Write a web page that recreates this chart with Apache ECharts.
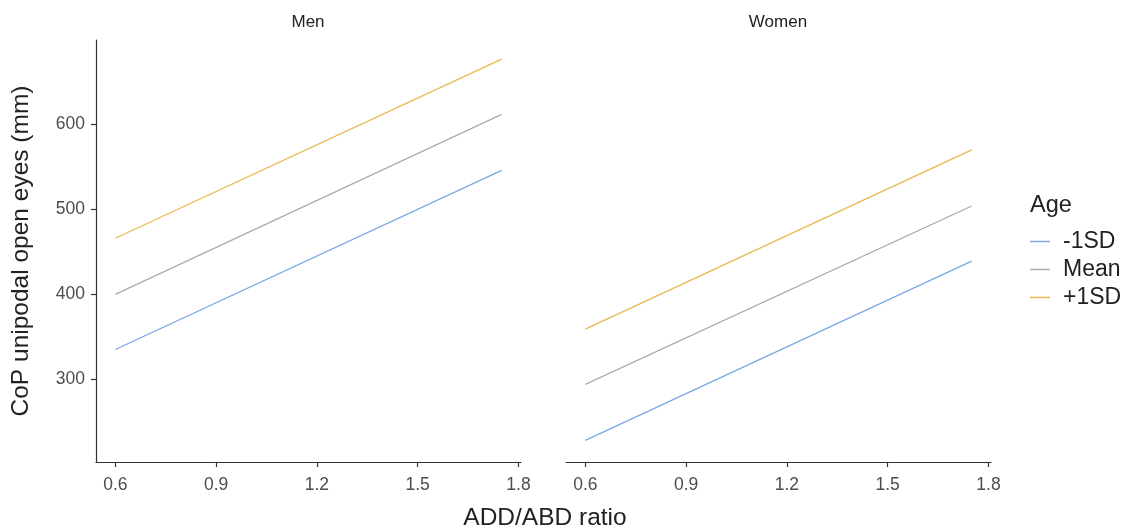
<!DOCTYPE html>
<html>
<head>
<meta charset="utf-8">
<script src="https://cdn.jsdelivr.net/npm/echarts@6/dist/echarts.min.js"></script>
<style>
  html, body { margin: 0; padding: 0; background: #fff; }
  #chart { width: 1134px; height: 531px; }
</style>
</head>
<body>
<div id="chart"></div>
<script>
const panels = ["Men", "Women"];
const ageGroups = ["-1SD", "Mean", "+1SD"];
const xEnds = [0.6, 1.75];
const xTicks = [0.6, 0.9, 1.2, 1.5, 1.8];
const yTicks = [300, 400, 500, 600];

// [start, end] values of each fitted line
const menLines = {
  "-1SD": [335, 546],
  "Mean": [400, 612],
  "+1SD": [466, 677]
};
const womenLines = {
  "-1SD": [228, 439],
  "Mean": [294, 504],
  "+1SD": [359, 570]
};

const colors = { "-1SD": "#7ba7e6", "Mean": "#ababab", "+1SD": "#e8b94f" };
const font = "Liberation Sans, Arial, sans-serif";

const chart = echarts.init(document.getElementById("chart"));

const axisLine = { show: true, lineStyle: { color: "#333", width: 1.2 } };

const xAxisFor = (i) => ({
  type: "value",
  gridIndex: i,
  min: 0.5425,
  max: 1.8075,
  axisLine: axisLine,
  axisTick: { show: true, length: 5, customValues: xTicks, lineStyle: { color: "#333", width: 1.2 } },
  axisLabel: {
    customValues: xTicks,
    color: "#4d4d4d",
    fontSize: 17.5,
    fontFamily: font,
    margin: 14,
    formatter: (v) => v.toFixed(1)
  },
  splitLine: { show: false }
});

const yAxisFor = (i) => ({
  type: "value",
  gridIndex: i,
  min: 202.5,
  max: 699.5,
  axisLine: i === 0 ? axisLine : { show: false },
  axisTick: i === 0
    ? { show: true, length: 5, customValues: yTicks, lineStyle: { color: "#333", width: 1.2 } }
    : { show: false },
  axisLabel: i === 0
    ? { customValues: yTicks, color: "#4d4d4d", fontSize: 17.5, fontFamily: font, margin: 11 }
    : { show: false },
  splitLine: { show: false },
  name: i === 0 ? "CoP unipodal open eyes (mm)" : "",
  nameLocation: "middle",
  nameGap: 62,
  nameTextStyle: { fontSize: 24.5, color: "#222", fontFamily: font }
});

const series = [];
[menLines, womenLines].forEach((lines, i) => {
  ageGroups.forEach((g) => {
    series.push({
      name: g,
      type: "line",
      xAxisIndex: i,
      yAxisIndex: i,
      symbol: "none",
      data: xEnds.map((x, k) => [x, lines[g][k]]),
      lineStyle: { color: colors[g], width: 1.3 },
      itemStyle: { color: colors[g] },
      silent: true
    });
  });
});

const titleStyle = (size) => ({ fontSize: size, fontWeight: "normal", color: "#222", fontFamily: font });

const option = {
  animation: false,
  grid: [
    { left: 96, top: 40, width: 425, height: 422 },
    { left: 566, top: 40, width: 425, height: 422 }
  ],
  title: [
    { text: panels[0], left: 308, top: 14, textAlign: "center", padding: 0, textStyle: titleStyle(17) },
    { text: panels[1], left: 778, top: 14, textAlign: "center", padding: 0, textStyle: titleStyle(17) },
    { text: "ADD/ABD ratio", left: 545, top: 506, textAlign: "center", padding: 0, textStyle: titleStyle(24.5) },
    { text: "Age", left: 1030, top: 194, padding: 0, textStyle: titleStyle(23.5) }
  ],
  legend: {
    orient: "vertical",
    left: 1030,
    top: 230,
    padding: 0,
    data: ageGroups,
    icon: "rect",
    itemWidth: 20,
    itemHeight: 1.5,
    itemGap: 5,
    textStyle: { fontSize: 23, lineHeight: 20, color: "#222", fontFamily: font, padding: [0, 0, 0, 8] },
    selectedMode: false
  },
  xAxis: [xAxisFor(0), xAxisFor(1)],
  yAxis: [yAxisFor(0), yAxisFor(1)],
  series: series
};

chart.setOption(option);
</script>
</body>
</html>
